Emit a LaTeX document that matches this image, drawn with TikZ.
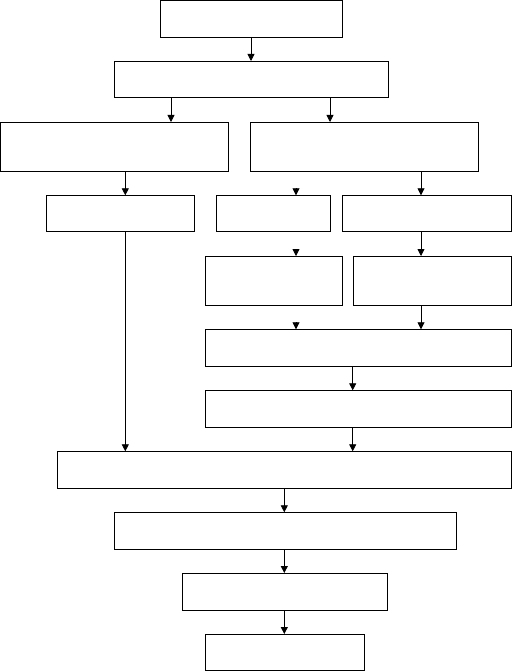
\documentclass[tikz,border=0pt]{standalone}
\usetikzlibrary{arrows.meta}
\begin{document}
\begin{tikzpicture}[x=1pt,y=-1pt,
    kasten/.style={draw, line width=0.8pt, inner sep=0pt, outer sep=0pt},
    pfeil/.style={line width=0.8pt, -{Triangle[length=7pt,width=7pt]}}]
    \useasboundingbox (0,0) rectangle (512,671);
    % Spalten der Pfeile
    \coordinate (cH) at (251,0);
    \coordinate (cA) at (171,0);
    \coordinate (cB) at (330,0);
    \coordinate (cC) at (125.3,0);
    \coordinate (cD) at (296,0);
    \coordinate (cE) at (421,0);
    \coordinate (cF) at (352.7,0);
    \coordinate (cG) at (284.3,0);
    % Kaesten: Name / links / oben / rechts / unten
    \foreach \name/\xa/\ya/\xb/\yb in
    {
      b1/160/0.4/342/37,
      b2/114.7/61/388/97.7,
      b3l/0.4/122/228.7/171.7,
      b3r/250.3/122/478.7/171.7,
      b4a/46/195.3/194.7/231.3,
      b4b/216.7/195.3/330.7/231.3,
      b4c/342/195.3/511.6/231.3,
      b5a/205/256/342/305.3,
      b5b/353/256/511.6/305.3,
      b6/205/329.3/511.3/366.3,
      b7/205/390.3/511.3/427.3,
      b8/57.3/451.3/511.3/488.3,
      b9/114.3/512.3/456.3/549.3,
      b10/182.3/573/387.3/610.3,
      b11/205/634/364.3/670.6
    }
    {
      \pgfmathsetmacro\bw{\xb - \xa}
      \pgfmathsetmacro\bh{\yb - \ya}
      \node[kasten, minimum width=\bw pt, minimum height=\bh pt] (\name) at ({(\xa+\xb)/2},{(\ya+\yb)/2}) {};
    }
    % Pfeile
    \draw[pfeil] (b1.south -| cH) -- (b2.north -| cH);
    \draw[pfeil] (b2.south -| cA) -- (b3l.north -| cA);
    \draw[pfeil] (b2.south -| cB) -- (b3r.north -| cB);
    \draw[pfeil] (b3l.south -| cC) -- (b4a.north -| cC);
    \draw[pfeil] (b3r.south -| cE) -- (b4c.north -| cE);
    \draw[pfeil] (b4a.south -| cC) -- (b8.north -| cC);
    \draw[pfeil] (b4c.south -| cE) -- (b5b.north -| cE);
    \draw[pfeil] (b5b.south -| cE) -- (b6.north -| cE);
    \draw[pfeil] (b6.south -| cF) -- (b7.north -| cF);
    \draw[pfeil] (b7.south -| cF) -- (b8.north -| cF);
    \draw[pfeil] (b8.south -| cG) -- (b9.north -| cG);
    \draw[pfeil] (b9.south -| cG) -- (b10.north -| cG);
    \draw[pfeil] (b10.south -| cG) -- (b11.north -| cG);
    % nur Pfeilspitzen
    \foreach \ziel in {b4b,b5a,b6}
    {
      \coordinate (s) at (\ziel.north -| cD);
      \draw[pfeil] ([yshift=7pt]s) -- (s);
    }
\end{tikzpicture}
\end{document}
